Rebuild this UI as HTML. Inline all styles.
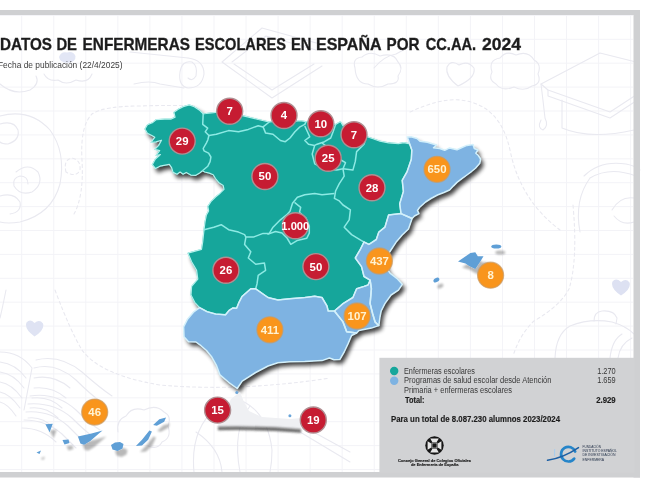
<!DOCTYPE html>
<html lang="es"><head><meta charset="utf-8"><title>Datos de enfermeras escolares en España por CC.AA. 2024</title>
<style>
html,body{margin:0;padding:0;background:#fff;}
body{width:650px;height:487px;overflow:hidden;font-family:"Liberation Sans",sans-serif;}
svg{display:block;}
</style></head><body>
<svg width="650" height="487" viewBox="0 0 650 487">
<defs>
<filter id="sh" x="-10%" y="-10%" width="125%" height="125%"><feGaussianBlur in="SourceAlpha" stdDeviation="1.9"/><feOffset dx="3" dy="3.8"/><feComponentTransfer><feFuncA type="linear" slope="0.76"/></feComponentTransfer><feMerge><feMergeNode/><feMergeNode in="SourceGraphic"/></feMerge></filter>
<filter id="shi" x="-30%" y="-30%" width="180%" height="180%"><feGaussianBlur in="SourceAlpha" stdDeviation="1"/><feOffset dx="4" dy="6"/><feComponentTransfer><feFuncA type="linear" slope="0.28"/></feComponentTransfer><feMerge><feMergeNode/><feMergeNode in="SourceGraphic"/></feMerge></filter>
<filter id="soft2" x="-10%" y="-300%" width="120%" height="700%"><feGaussianBlur stdDeviation="1.3"/></filter>
<filter id="soft"><feGaussianBlur stdDeviation="0.6"/></filter>
<pattern id="grid" width="32.05" height="23.9" patternUnits="userSpaceOnUse" x="21.2" y="86.6"><path d="M0 0.5H32.05M0.5 0V23.9" fill="none" stroke="#f3f3f7" stroke-width="1"/></pattern>
</defs>
<rect width="650" height="487" fill="#fff"/>
<rect x="0" y="15" width="633" height="457" fill="url(#grid)"/>
<g id="doodles" fill="none" stroke="#e9e9f0" stroke-width="1.1" stroke-linecap="round" stroke-linejoin="round" filter="url(#soft)">
<!-- graduation cap -->
<path d="M541 84 L600 53 L636 62 L636 95 L610 112 L548 90 Z"/>
<path d="M548 90 L548 96 L610 118 L636 101"/>
<path d="M562 100 L562 128 M562 128 Q590 140 634 130"/>
<path d="M541 84 Q543 100 545 118 Q549 126 543 130 Q537 128 541 120"/>
<!-- cloud near 2024 -->
<path d="M492 72 Q488 60 500 58 Q506 50 516 55 Q528 50 534 60 Q542 64 538 74 Q542 84 532 86 Q524 92 514 87 Q502 92 496 84 Q488 80 492 72 Z"/>
<!-- heart outline -->
<path d="M458 86 Q445 76 447 67 Q451 59 459 65 Q468 60 474 68 Q476 78 458 86 Z"/>
<!-- cloud + brush near ESPAÑA -->
<path d="M355 68 Q352 58 362 57 Q370 50 380 56 Q394 52 398 62 Q404 68 398 76 Q400 84 388 84 Q378 90 368 84 Q356 84 355 68 Z"/>
<path d="M374 68 Q384 56 396 54 L418 42"/>
<!-- scroll -->
<path d="M130 52 L188 58 M134 84 Q150 80 160 84 L184 88"/>
<path d="M188 58 Q204 60 204 74 Q202 88 188 88 Q178 86 180 72 Q182 60 192 62 Q198 66 196 76 Q192 82 188 78"/>
<!-- tablet -->
<path d="M222 62 L262 28 L320 44 M222 62 L272 98 L322 66 M232 62 L266 36 L316 50 M234 64 L272 90 L314 64"/>
<!-- palette swirl left -->
<path d="M0 116 Q30 108 50 130 Q66 152 60 184 Q52 214 20 222 Q8 224 0 222"/>
<path d="M0 124 Q14 120 18 130 Q20 140 8 144 Q2 144 0 142"/>
<path d="M16 172 Q28 162 38 172 Q44 184 32 192 Q20 196 14 186 Q12 178 20 176 Q28 176 28 184"/>
<path d="M0 196 Q14 192 20 202 Q22 212 10 214"/>
<path d="M0 84 Q14 96 30 90 Q40 84 36 76"/>
<!-- cloud under subtitle -->
<path d="M44 74 Q48 82 58 80 Q66 86 76 80 Q88 84 92 74"/>
<!-- globe right -->
<path d="M584 176 Q600 160 626 164 Q636 166 640 170"/>
<path d="M580 232 Q574 200 590 178 M590 178 Q610 166 636 176"/>
<path d="M612 210 Q620 196 634 198 M614 216 Q622 226 634 222"/>
<!-- backpack -->
<path d="M555 358 Q556 334 570 326 Q590 318 612 322 Q626 326 634 334"/>
<path d="M594 321 Q594 312 602 311 Q614 310 617 318 L616 324"/>
<path d="M610 358 Q612 340 622 334 M618 358 Q620 344 632 338"/>
<!-- book bottom-left -->
<path d="M0 352 Q20 352 32 368 L24 410"/>
<path d="M0 362 Q16 364 26 378 M0 372 Q14 374 24 388 M0 382 Q12 384 22 398 M0 392 Q10 394 20 408 M0 402 Q8 404 16 416"/>
<path d="M34 368 Q56 362 76 380 Q92 396 104 404"/>
<path d="M34 378 Q54 374 70 388 M34 388 Q52 386 66 398 M32 398 Q50 396 62 408 M30 408 Q46 406 58 418 M28 418 Q42 416 54 428"/>
<path d="M6 290 Q2 310 0 318"/>
<path d="M30 396 Q56 392 76 410 Q90 424 100 430 M28 404 Q54 402 72 418 Q84 430 92 436 M26 412 Q50 410 68 426 Q78 436 84 442 M24 420 Q46 420 62 434 Q70 442 76 448 M22 428 Q42 428 56 442 M36 360 Q60 354 82 372 Q100 388 112 396"/>
<!-- cloud canary -->
<path d="M118 432 Q116 420 126 416 Q132 406 144 410 Q156 404 164 412 Q172 416 168 426 Q172 438 162 442 Q158 450 148 446"/>
<!-- basketball -->
<path d="M194 472 Q190 430 216 408 M240 400 Q268 412 272 450 Q272 462 270 472"/>
<path d="M196 432 Q220 448 222 472 M250 406 Q232 430 240 472"/>
<!-- ruler / pencil bottom right of Melilla -->
<path d="M300 432 L350 462 M306 428 L350 452"/>
<!-- dashed path -->
<path stroke-dasharray="3 3" d="M55 290 Q70 330 82 350 Q100 375 160 385 Q240 392 330 378"/>
<path stroke-dasharray="3 3" d="M74 214 Q84 196 82 160 Q80 126 92 114 Q104 106 140 106 Q170 105 196 106"/>
<path stroke-dasharray="3 3" d="M410 112 Q440 98 460 100 Q500 104 510 150 Q520 200 560 230"/>
<path stroke-dasharray="3 3" d="M573 205 Q578 260 569 289 Q560 306 534 321 Q520 334 513 356"/>
<path stroke-dasharray="3 3" d="M66 172 Q63 160 72 158 Q81 160 80 170 Q76 178 66 172 Z"/>

</g>
<path d="M34.5 336.5 Q24 329 26.5 322.5 Q30 318.5 34.5 323 Q39.5 319 43 323.5 Q45 330 34.5 336.5 Z" fill="#dfe3f3" filter="url(#soft)"/>
<path d="M621 295.5 Q610 288 612.5 281.5 Q616 277.5 621 282 Q626 278 629.5 282.5 Q631.5 289 621 295.5 Z" fill="#dde1f2" filter="url(#soft)"/>
<path d="M59 57 Q61 51 67 52.5 Q73 50.5 75.5 56 Q76 62 68 62.8 Q60 63 59 57 Z" fill="#e2e6f5" filter="url(#soft)"/>
<rect x="0" y="10" width="640" height="5" fill="#cfd0d2"/>
<rect x="633.5" y="10" width="6.5" height="467.5" fill="#cfd0d2"/>
<rect x="0" y="472" width="640" height="5.5" fill="#cfd0d2"/>
<rect x="379.4" y="357.8" width="255" height="115" fill="#d1d2d4"/>
<g filter="url(#soft)">
<g filter="url(#sh)">
<polygon points="203.2,113.8 199.2,109.9 194.3,106.8 189.3,104.9 183.2,106.6 178.2,109.2 173.9,112.3 175.1,117.3 170.8,119.1 164.7,119.1 156.0,119.7 152.3,122.8 147.4,124.7 144.9,129.0 147.4,133.3 152.3,135.8 154.8,137.2 151.1,142.5 156.0,141.9 161.5,140.2 158.5,145.6 154.8,149.3 159.7,150.6 156.0,155.5 160.5,154.6 155.4,159.0 153.9,161.6 152.3,164.7 155.4,168.5 160.0,166.2 169.3,164.3 171.6,167.7 173.1,172.4 177.0,174.2 180.1,172.0 183.1,174.2 186.2,172.4 190.8,175.1 195.5,175.4 200.1,172.7 202.4,170.8 204.7,172.0 209.3,173.1 213.2,174.7 215.5,178.5 218.6,182.4 223.2,185.5 224.0,189.3 220.1,193.2 215.5,197.0 210.9,201.6 207.8,206.3 208.6,210.9 206.4,214.9 205.0,222.0 204.0,229.7 202.7,242.0 201.5,249.4 187.9,253.1 191.6,261.7 196.6,270.3 197.8,279.0 191.6,286.4 191.0,295.0 194.7,302.3 199.6,307.6 207.0,311.6 215.6,314.0 225.5,314.8 229.2,310.3 232.9,307.9 236.6,308.3 239.0,302.3 242.0,296.5 250.8,288.8 255.7,288.8 268.0,297.5 277.9,299.9 290.0,298.7 304.8,297.5 314.7,296.2 322.0,297.5 327.0,306.0 328.2,311.0 334.4,311.0 343.0,303.6 352.9,297.5 356.6,288.8 364.0,286.4 368.0,285.0 370.1,280.2 364.0,276.5 361.5,266.6 355.3,258.0 360.3,249.4 364.0,242.0 368.9,244.4 376.3,239.5 378.8,232.1 384.9,227.2 388.6,214.9 401.0,213.6 399.7,203.7 403.4,191.4 402.2,180.3 407.1,171.6 411.3,159.3 411.8,150.0 409.6,143.8 404.0,142.6 398.5,143.6 388.6,142.8 380.0,141.2 373.8,139.0 366.4,136.5 358.0,133.5 350.0,130.0 343.0,125.7 340.5,121.5 335.6,124.4 320.0,123.0 308.5,122.0 299.9,120.7 290.0,122.0 280.0,121.0 269.3,122.0 258.2,119.5 243.4,115.8 232.0,113.5 220.0,112.0 211.4,112.8 206.0,113.5" fill="#13a69b" stroke="#13a69b" stroke-width="0.6"/>
<polygon points="409.6,143.8 407.3,137.0 411.0,136.8 417.0,138.5 420.0,141.3 427.4,142.3 432.3,143.8 436.6,145.0 433.5,147.7 439.7,148.5 444.7,150.3 449.6,147.9 457.0,149.7 461.9,147.5 466.9,145.4 473.0,144.5 474.3,148.5 478.0,150.0 475.8,153.2 478.2,155.3 480.6,159.0 479.8,163.3 475.5,168.2 471.8,171.3 466.9,175.0 461.9,178.7 457.0,182.4 453.3,186.1 449.6,190.0 444.0,192.5 437.5,195.0 431.0,198.5 425.6,202.0 419.5,207.5 417.5,210.5 419.0,213.6 414.5,216.0 412.1,218.5 401.0,213.6 399.7,203.7 403.4,191.4 402.2,180.3 407.1,171.6 411.3,159.3 411.8,150.0 409.6,143.8" fill="#7eb3e2"/>
<polygon points="401.0,213.6 412.1,218.5 408.5,229.0 402.2,235.0 396.0,242.3 391.3,249.5 387.0,256.0 385.5,262.0 386.5,268.0 390.0,273.2 397.5,279.0 402.3,284.3 398.5,290.1 391.1,295.0 384.9,303.6 381.2,311.0 380.0,317.0 378.8,325.6 375.1,322.0 372.6,313.5 370.1,303.6 371.4,288.8 370.1,280.2 370.1,280.2 364.0,276.5 361.5,266.6 355.3,258.0 360.3,249.4 364.0,242.0 368.9,244.4 376.3,239.5 378.8,232.1 384.9,227.2 388.6,214.9 401.0,213.6" fill="#7eb3e2"/>
<polygon points="368.0,285.0 370.1,280.2 371.4,288.8 370.1,303.6 372.6,313.5 375.1,322.0 378.8,325.6 371.4,328.1 359.0,330.5 356.6,333.0 346.7,331.8 343.0,321.9 334.4,311.0 343.0,303.6 352.9,297.5 356.6,288.8 364.0,286.4 368.0,285.0" fill="#7eb3e2"/>
<polygon points="199.6,307.6 193.4,312.2 187.3,319.6 183.6,327.0 184.0,336.8 188.5,341.8 195.9,342.0 201.0,345.7 206.5,350.5 211.4,356.4 216.3,365.1 220.0,374.9 228.6,382.3 237.2,388.5 242.2,381.1 255.7,372.5 268.1,366.0 277.9,362.8 290.0,361.8 304.8,361.5 322.0,360.6 329.4,358.0 334.0,359.8 339.8,359.6 344.2,352.0 347.9,344.1 351.6,335.5 356.6,333.0 346.7,331.8 343.0,321.9 334.4,311.0 334.4,311.0 328.2,311.0 327.0,306.0 322.0,297.5 314.7,296.2 304.8,297.5 290.0,298.7 277.9,299.9 268.0,297.5 255.7,288.8 250.8,288.8 242.0,296.5 239.0,302.3 236.6,308.3 232.9,307.9 229.2,310.3 225.5,314.8 215.6,314.0 207.0,311.6" fill="#7eb3e2"/>
</g>
<polygon points="203.2,113.8 199.2,109.9 194.3,106.8 189.3,104.9 183.2,106.6 178.2,109.2 173.9,112.3 175.1,117.3 170.8,119.1 164.7,119.1 156.0,119.7 152.3,122.8 147.4,124.7 144.9,129.0 147.4,133.3 152.3,135.8 154.8,137.2 151.1,142.5 156.0,141.9 161.5,140.2 158.5,145.6 154.8,149.3 159.7,150.6 156.0,155.5 160.5,154.6 155.4,159.0 153.9,161.6 152.3,164.7 155.4,168.5 160.0,166.2 169.3,164.3 171.6,167.7 173.1,172.4 177.0,174.2 180.1,172.0 183.1,174.2 186.2,172.4 190.8,175.1 195.5,175.4 200.1,172.7 202.4,170.8 204.7,172.0 209.3,173.1 213.2,174.7 215.5,178.5 218.6,182.4 223.2,185.5 224.0,189.3 220.1,193.2 215.5,197.0 210.9,201.6 207.8,206.3 208.6,210.9 206.4,214.9 205.0,222.0 204.0,229.7 202.7,242.0 201.5,249.4 187.9,253.1 191.6,261.7 196.6,270.3 197.8,279.0 191.6,286.4 191.0,295.0 194.7,302.3 199.6,307.6 207.0,311.6 215.6,314.0 225.5,314.8 229.2,310.3 232.9,307.9 236.6,308.3 239.0,302.3 242.0,296.5 250.8,288.8 255.7,288.8 268.0,297.5 277.9,299.9 290.0,298.7 304.8,297.5 314.7,296.2 322.0,297.5 327.0,306.0 328.2,311.0 334.4,311.0 343.0,303.6 352.9,297.5 356.6,288.8 364.0,286.4 368.0,285.0 370.1,280.2 364.0,276.5 361.5,266.6 355.3,258.0 360.3,249.4 364.0,242.0 368.9,244.4 376.3,239.5 378.8,232.1 384.9,227.2 388.6,214.9 401.0,213.6 399.7,203.7 403.4,191.4 402.2,180.3 407.1,171.6 411.3,159.3 411.8,150.0 409.6,143.8 404.0,142.6 398.5,143.6 388.6,142.8 380.0,141.2 373.8,139.0 366.4,136.5 358.0,133.5 350.0,130.0 343.0,125.7 340.5,121.5 335.6,124.4 320.0,123.0 308.5,122.0 299.9,120.7 290.0,122.0 280.0,121.0 269.3,122.0 258.2,119.5 243.4,115.8 232.0,113.5 220.0,112.0 211.4,112.8 206.0,113.5" fill="none" stroke="#b5f1ec" stroke-width="1.2" stroke-linejoin="round"/>
<polyline points="203.2,113.8 202.7,124.4 207.7,128.1 205.2,131.8 208.9,135.5 207.8,140.0 206.3,143.1 203.2,148.5 204.0,150.8 208.6,153.1 210.9,157.0 210.1,161.6 207.8,166.2 202.4,170.8" fill="none" stroke="#8deae4" stroke-width="1.5" stroke-linejoin="round"/>
<polyline points="208.9,135.5 216.3,134.3 228.6,130.6 238.5,131.8 248.3,129.4 258.2,125.7 263.1,126.9 269.3,122.0" fill="none" stroke="#8deae4" stroke-width="1.5" stroke-linejoin="round"/>
<polyline points="263.1,126.9 265.6,133.1 273.0,134.3 280.4,140.5 285.3,141.7 290.0,138.0 294.9,131.8 299.9,126.9 304.8,124.4 306.0,121.5" fill="none" stroke="#8deae4" stroke-width="1.5" stroke-linejoin="round"/>
<polyline points="304.8,126.0 309.7,136.8 304.8,140.5 308.5,144.2 314.7,145.4 317.1,144.2 324.5,141.7 330.7,138.0 333.1,131.8 335.6,124.4" fill="none" stroke="#8deae4" stroke-width="1.5" stroke-linejoin="round"/>
<polyline points="314.7,145.4 312.2,154.0 314.7,163.9 325.0,169.0 336.8,170.1 343.0,168.8 345.5,162.7 339.3,159.0 327.0,146.6 322.0,143.0" fill="none" stroke="#8deae4" stroke-width="1.5" stroke-linejoin="round"/>
<polyline points="343.0,168.8 352.9,170.1 355.3,161.4 356.6,151.6 364.0,144.2 366.4,136.8" fill="none" stroke="#8deae4" stroke-width="1.5" stroke-linejoin="round"/>
<polyline points="343.0,168.8 344.2,176.2 339.3,183.6 335.6,191.0 334.4,198.4 339.3,200.9 343.0,205.0 350.4,209.9 349.2,219.8 344.2,227.2 351.6,234.6 361.5,240.7 364.0,242.0" fill="none" stroke="#8deae4" stroke-width="1.5" stroke-linejoin="round"/>
<polyline points="334.4,193.5 322.0,194.7 314.7,193.5 304.8,194.7 297.4,197.2 292.5,203.3 290.0,211.2 286.6,214.9 280.4,219.8 273.0,227.2 269.3,233.4 263.1,233.4 253.3,237.1 245.9,237.1 244.6,234.6 238.5,232.1 228.6,229.7 221.2,224.7 213.8,227.2 204.0,229.7" fill="none" stroke="#8deae4" stroke-width="1.5" stroke-linejoin="round"/>
<polyline points="294.5,202.4 300.7,207.3 299.5,212.3 306.0,218.0 309.3,226.0 309.3,233.2 306.8,238.2 297.0,240.6 290.8,244.3 287.0,238.0 282.0,233.0 275.5,231.5 267.4,234.4" fill="none" stroke="#8deae4" stroke-width="1.5" stroke-linejoin="round"/>
<polyline points="245.9,237.1 244.6,244.4 250.8,251.8 248.3,258.0 255.7,264.2 264.4,262.9 265.6,270.3 258.2,275.3 257.0,283.9 255.7,288.8" fill="none" stroke="#8deae4" stroke-width="1.5" stroke-linejoin="round"/>
<polygon points="409.6,143.8 407.3,137.0 411.0,136.8 417.0,138.5 420.0,141.3 427.4,142.3 432.3,143.8 436.6,145.0 433.5,147.7 439.7,148.5 444.7,150.3 449.6,147.9 457.0,149.7 461.9,147.5 466.9,145.4 473.0,144.5 474.3,148.5 478.0,150.0 475.8,153.2 478.2,155.3 480.6,159.0 479.8,163.3 475.5,168.2 471.8,171.3 466.9,175.0 461.9,178.7 457.0,182.4 453.3,186.1 449.6,190.0 444.0,192.5 437.5,195.0 431.0,198.5 425.6,202.0 419.5,207.5 417.5,210.5 419.0,213.6 414.5,216.0 412.1,218.5 401.0,213.6 399.7,203.7 403.4,191.4 402.2,180.3 407.1,171.6 411.3,159.3 411.8,150.0 409.6,143.8" fill="none" stroke="#d3f0fb" stroke-width="1.5" stroke-linejoin="round"/>
<polygon points="401.0,213.6 412.1,218.5 408.5,229.0 402.2,235.0 396.0,242.3 391.3,249.5 387.0,256.0 385.5,262.0 386.5,268.0 390.0,273.2 397.5,279.0 402.3,284.3 398.5,290.1 391.1,295.0 384.9,303.6 381.2,311.0 380.0,317.0 378.8,325.6 375.1,322.0 372.6,313.5 370.1,303.6 371.4,288.8 370.1,280.2 370.1,280.2 364.0,276.5 361.5,266.6 355.3,258.0 360.3,249.4 364.0,242.0 368.9,244.4 376.3,239.5 378.8,232.1 384.9,227.2 388.6,214.9 401.0,213.6" fill="none" stroke="#d3f0fb" stroke-width="1.5" stroke-linejoin="round"/>
<polygon points="368.0,285.0 370.1,280.2 371.4,288.8 370.1,303.6 372.6,313.5 375.1,322.0 378.8,325.6 371.4,328.1 359.0,330.5 356.6,333.0 346.7,331.8 343.0,321.9 334.4,311.0 343.0,303.6 352.9,297.5 356.6,288.8 364.0,286.4 368.0,285.0" fill="none" stroke="#d3f0fb" stroke-width="1.5" stroke-linejoin="round"/>
<polygon points="199.6,307.6 193.4,312.2 187.3,319.6 183.6,327.0 184.0,336.8 188.5,341.8 195.9,342.0 201.0,345.7 206.5,350.5 211.4,356.4 216.3,365.1 220.0,374.9 228.6,382.3 237.2,388.5 242.2,381.1 255.7,372.5 268.1,366.0 277.9,362.8 290.0,361.8 304.8,361.5 322.0,360.6 329.4,358.0 334.0,359.8 339.8,359.6 344.2,352.0 347.9,344.1 351.6,335.5 356.6,333.0 346.7,331.8 343.0,321.9 334.4,311.0 334.4,311.0 328.2,311.0 327.0,306.0 322.0,297.5 314.7,296.2 304.8,297.5 290.0,298.7 277.9,299.9 268.0,297.5 255.7,288.8 250.8,288.8 242.0,296.5 239.0,302.3 236.6,308.3 232.9,307.9 229.2,310.3 225.5,314.8 215.6,314.0 207.0,311.6" fill="none" stroke="#d3f0fb" stroke-width="1.5" stroke-linejoin="round"/>
<g filter="url(#shi)">
<polygon points="458.0,261.6 470.4,253.0 475.3,252.3 477.8,256.2 483.5,256.2 480.3,261.6 475.3,269.0 469.2,266.0 465.5,263.6" fill="#5f9fd6"/>
<polygon points="45.4,424.2 52.8,423.7 49.6,432.3" fill="#5f9fd6"/>
<polygon points="77.9,436.5 91.5,433.6 102.6,430.6 98.9,433.6 90.3,441.0 84.1,444.7 80.4,443.4" fill="#5f9fd6"/>
<polygon points="135.9,445.9 142.0,439.7 149.4,430.6 151.9,431.6 148.2,439.7 142.0,445.4" fill="#5f9fd6"/>
<polygon points="153.1,424.9 159.3,419.3 166.0,417.5 164.2,421.7 156.8,425.7" fill="#5f9fd6"/>
<polygon points="62.5,440.0 68.5,439.5 69.5,443.0 64.5,444.5" fill="#5f9fd6"/>
<polygon points="111.0,445.0 115.0,442.5 120.0,442.0 123.5,444.0 122.5,448.5 117.5,451.0 112.5,449.5" fill="#5f9fd6"/>
<polygon points="36.5,452.5 41.0,450.5 39.5,454.0" fill="#5f9fd6"/>
<ellipse cx="496.3" cy="246.4" rx="5" ry="2" fill="#5f9fd6"/>
<ellipse cx="436.4" cy="280.1" rx="3.2" ry="2" fill="#5f9fd6" transform="rotate(-30 436.4 280.1)"/>
</g>
<path d="M231 399 L240 392 L244 402 L249 411 L262 417 L290 419 L301 418 L301 429 L262 427 L217 427 Z" fill="#eff0f3"/>
<path d="M218 428.5 Q260 427.5 301 431" fill="none" stroke="#444" stroke-width="3.6" opacity="0.8" filter="url(#soft2)"/>
<circle cx="236.8" cy="392.4" r="1.5" fill="#6aa5da"/><circle cx="289.9" cy="415.8" r="1.5" fill="#6aa5da"/>
<circle cx="229.7" cy="111.3" r="13" fill="#c61c31" stroke="#b08f93" stroke-width="1.4"/>
<text x="229.7" y="115.2" text-anchor="middle" font-family="'Liberation Sans', sans-serif" font-weight="bold" font-size="11.4" fill="#fff">7</text>
<circle cx="182.2" cy="141.1" r="13" fill="#c61c31" stroke="#b08f93" stroke-width="1.4"/>
<text x="182.2" y="145.0" text-anchor="middle" font-family="'Liberation Sans', sans-serif" font-weight="bold" font-size="11.4" fill="#fff">29</text>
<circle cx="284" cy="115.5" r="13" fill="#c61c31" stroke="#b08f93" stroke-width="1.4"/>
<text x="284" y="119.4" text-anchor="middle" font-family="'Liberation Sans', sans-serif" font-weight="bold" font-size="11.4" fill="#fff">4</text>
<circle cx="264.9" cy="176.5" r="13" fill="#c61c31" stroke="#b08f93" stroke-width="1.4"/>
<text x="264.9" y="180.4" text-anchor="middle" font-family="'Liberation Sans', sans-serif" font-weight="bold" font-size="11.4" fill="#fff">50</text>
<circle cx="320.8" cy="123.7" r="13" fill="#c61c31" stroke="#b08f93" stroke-width="1.4"/>
<text x="320.8" y="127.60000000000001" text-anchor="middle" font-family="'Liberation Sans', sans-serif" font-weight="bold" font-size="11.4" fill="#fff">10</text>
<circle cx="354" cy="134.8" r="13" fill="#c61c31" stroke="#b08f93" stroke-width="1.4"/>
<text x="354" y="138.70000000000002" text-anchor="middle" font-family="'Liberation Sans', sans-serif" font-weight="bold" font-size="11.4" fill="#fff">7</text>
<circle cx="328.2" cy="158.2" r="13" fill="#c61c31" stroke="#b08f93" stroke-width="1.4"/>
<text x="328.2" y="162.1" text-anchor="middle" font-family="'Liberation Sans', sans-serif" font-weight="bold" font-size="11.4" fill="#fff">25</text>
<circle cx="372" cy="187.8" r="13" fill="#c61c31" stroke="#b08f93" stroke-width="1.4"/>
<text x="372" y="191.70000000000002" text-anchor="middle" font-family="'Liberation Sans', sans-serif" font-weight="bold" font-size="11.4" fill="#fff">28</text>
<circle cx="225.9" cy="270.3" r="13" fill="#c61c31" stroke="#b08f93" stroke-width="1.4"/>
<text x="225.9" y="274.2" text-anchor="middle" font-family="'Liberation Sans', sans-serif" font-weight="bold" font-size="11.4" fill="#fff">26</text>
<circle cx="295.3" cy="225.7" r="13" fill="#c61c31" stroke="#b08f93" stroke-width="1.4"/>
<text x="295.3" y="229.6" text-anchor="middle" font-family="'Liberation Sans', sans-serif" font-weight="bold" font-size="11.2" fill="#fff">1.000</text>
<circle cx="315.9" cy="266.6" r="13" fill="#c61c31" stroke="#b08f93" stroke-width="1.4"/>
<text x="315.9" y="270.5" text-anchor="middle" font-family="'Liberation Sans', sans-serif" font-weight="bold" font-size="11.4" fill="#fff">50</text>
<circle cx="217.6" cy="410.1" r="13" fill="#c61c31" stroke="#b08f93" stroke-width="1.4"/>
<text x="217.6" y="414.0" text-anchor="middle" font-family="'Liberation Sans', sans-serif" font-weight="bold" font-size="11.4" fill="#fff">15</text>
<circle cx="313.3" cy="420" r="13" fill="#c61c31" stroke="#b08f93" stroke-width="1.4"/>
<text x="313.3" y="423.9" text-anchor="middle" font-family="'Liberation Sans', sans-serif" font-weight="bold" font-size="11.4" fill="#fff">19</text>
<circle cx="437" cy="169.3" r="13" fill="#f9951f" stroke="#c99a62" stroke-opacity="0.7" stroke-width="1.3"/>
<text x="437" y="173.20000000000002" text-anchor="middle" font-family="'Liberation Sans', sans-serif" font-weight="bold" font-size="11.4" fill="#fff3d2">650</text>
<circle cx="379.4" cy="261" r="13" fill="#f9951f" stroke="#c99a62" stroke-opacity="0.7" stroke-width="1.3"/>
<text x="379.4" y="264.9" text-anchor="middle" font-family="'Liberation Sans', sans-serif" font-weight="bold" font-size="11.4" fill="#fff3d2">437</text>
<circle cx="357.1" cy="316" r="13" fill="#f9951f" stroke="#c99a62" stroke-opacity="0.7" stroke-width="1.3"/>
<text x="357.1" y="319.9" text-anchor="middle" font-family="'Liberation Sans', sans-serif" font-weight="bold" font-size="11.4" fill="#fff3d2">107</text>
<circle cx="269.9" cy="329.8" r="13" fill="#f9951f" stroke="#c99a62" stroke-opacity="0.7" stroke-width="1.3"/>
<text x="269.9" y="333.7" text-anchor="middle" font-family="'Liberation Sans', sans-serif" font-weight="bold" font-size="11.4" fill="#fff3d2">411</text>
<circle cx="490.6" cy="275.2" r="13" fill="#f9951f" stroke="#c99a62" stroke-opacity="0.7" stroke-width="1.3"/>
<text x="490.6" y="279.09999999999997" text-anchor="middle" font-family="'Liberation Sans', sans-serif" font-weight="bold" font-size="11.4" fill="#fff3d2">8</text>
<circle cx="94.7" cy="412.1" r="13" fill="#f9951f" stroke="#c99a62" stroke-opacity="0.7" stroke-width="1.3"/>
<text x="94.7" y="416.0" text-anchor="middle" font-family="'Liberation Sans', sans-serif" font-weight="bold" font-size="11.4" fill="#fff3d2">46</text>
</g>
<g filter="url(#soft)">
<text y="50" font-family="'Liberation Sans', sans-serif" font-weight="bold" font-size="16.2" fill="#1e1e1e" stroke="#1e1e1e" stroke-width="0.3"><tspan x="0" textLength="52" lengthAdjust="spacingAndGlyphs">DATOS</tspan> <tspan x="56.4" textLength="20.6" lengthAdjust="spacingAndGlyphs">DE</tspan> <tspan x="82.6" textLength="107.4" lengthAdjust="spacingAndGlyphs">ENFERMERAS</tspan> <tspan x="195" textLength="91" lengthAdjust="spacingAndGlyphs">ESCOLARES</tspan> <tspan x="291" textLength="20.5" lengthAdjust="spacingAndGlyphs">EN</tspan> <tspan x="316" textLength="65" lengthAdjust="spacingAndGlyphs">ESPAÑA</tspan> <tspan x="386.5" textLength="33" lengthAdjust="spacingAndGlyphs">POR</tspan> <tspan x="425.7" textLength="50.5" lengthAdjust="spacingAndGlyphs">CC.AA.</tspan> <tspan x="482" textLength="39" lengthAdjust="spacingAndGlyphs">2024</tspan></text>
<text x="-2" y="68" font-family="'Liberation Sans', sans-serif" font-size="8.2" fill="#3c3c3c" textLength="124.5" lengthAdjust="spacingAndGlyphs">Fecha de publicación (22/4/2025)</text>
<circle cx="394.2" cy="371" r="4.2" fill="#13a69b"/>
<circle cx="394.2" cy="380.8" r="4.2" fill="#7eb3e2"/>
<text x="404" y="373.6" font-family="'Liberation Sans', sans-serif" font-size="8.5" fill="#383838" textLength="71" lengthAdjust="spacingAndGlyphs">Enfermeras escolares</text>
<text x="404" y="383.2" font-family="'Liberation Sans', sans-serif" font-size="8.5" fill="#383838" textLength="147.5" lengthAdjust="spacingAndGlyphs">Programas de salud escolar desde Atención</text>
<text x="404" y="393" font-family="'Liberation Sans', sans-serif" font-size="8.5" fill="#383838" textLength="108" lengthAdjust="spacingAndGlyphs">Primaria + enfermeras escolares</text>
<text x="405" y="402.6" font-family="'Liberation Sans', sans-serif" font-size="8.2" font-weight="bold" fill="#1f1f1f" stroke="#1f1f1f" stroke-width="0.15" textLength="19.5" lengthAdjust="spacingAndGlyphs">Total:</text>
<text x="615.7" y="373.6" text-anchor="end" font-family="'Liberation Sans', sans-serif" font-size="8.3" fill="#383838" textLength="18.5" lengthAdjust="spacingAndGlyphs">1.270</text>
<text x="615.7" y="383.2" text-anchor="end" font-family="'Liberation Sans', sans-serif" font-size="8.3" fill="#383838" textLength="18.5" lengthAdjust="spacingAndGlyphs">1.659</text>
<text x="615.7" y="402.6" text-anchor="end" font-family="'Liberation Sans', sans-serif" font-size="8.2" font-weight="bold" fill="#1f1f1f" stroke="#1f1f1f" stroke-width="0.15" textLength="19.5" lengthAdjust="spacingAndGlyphs">2.929</text>
<text x="391" y="422.3" font-family="'Liberation Sans', sans-serif" font-size="8.2" font-weight="bold" fill="#1d1d1d" stroke="#1d1d1d" stroke-width="0.15" textLength="169" lengthAdjust="spacingAndGlyphs">Para un total de 8.087.230 alumnos 2023/2024</text>
<g id="logo1"><circle cx="434.5" cy="445.5" r="9.2" fill="#151515"/><path d="M430.2 438.6 L438.8 438.6 L436.6 442.3 L432.4 442.3 Z M430.2 452.4 L438.8 452.4 L436.6 448.7 L432.4 448.7 Z M427.6 441.2 L427.6 449.8 L431.3 447.6 L431.3 443.4 Z M441.4 441.2 L441.4 449.8 L437.7 447.6 L437.7 443.4 Z" fill="#e6e6e6"/><rect x="432" y="443" width="5" height="5" fill="none" stroke="#d8d8d8" stroke-width="0.7"/></g>
<text x="434.5" y="461.6" text-anchor="middle" font-family="'Liberation Sans', sans-serif" font-size="4" font-weight="bold" fill="#1c1c1c" stroke="#1c1c1c" stroke-width="0.15" textLength="73" lengthAdjust="spacingAndGlyphs">Consejo General de Colegios Oficiales</text>
<text x="434.7" y="466" text-anchor="middle" font-family="'Liberation Sans', sans-serif" font-size="4" font-weight="bold" fill="#1c1c1c" stroke="#1c1c1c" stroke-width="0.15" textLength="47.5" lengthAdjust="spacingAndGlyphs">de Enfermería de España</text>
<g id="logo2" fill="none" stroke-linecap="round"><path d="M575.2 451.6 A7.3 7.3 0 1 0 574.2 458.6" stroke="#2585c9" stroke-width="2.7"/><path d="M547.5 460.3 Q563 458 578.5 447.6" stroke="#1d5fa3" stroke-width="1.5"/><path d="M554.6 449.5 L554.6 456" stroke="#a9cdec" stroke-width="1.1"/></g>
<text x="582.5" y="448.1" font-family="'Liberation Sans', sans-serif" font-size="3.6" fill="#1f2d45" textLength="18.5" lengthAdjust="spacingAndGlyphs">FUNDACIÓN</text>
<text x="582.5" y="452.3" font-family="'Liberation Sans', sans-serif" font-size="3.6" fill="#1f2d45" textLength="34.5" lengthAdjust="spacingAndGlyphs">INSTITUTO ESPAÑOL</text>
<text x="582.5" y="456.4" font-family="'Liberation Sans', sans-serif" font-size="3.6" fill="#1f2d45" textLength="33" lengthAdjust="spacingAndGlyphs">DE INVESTIGACIÓN</text>
<text x="582.5" y="460.6" font-family="'Liberation Sans', sans-serif" font-size="3.6" fill="#1f2d45" textLength="21.6" lengthAdjust="spacingAndGlyphs">ENFERMERA</text>
</g>
</svg>
</body></html>
